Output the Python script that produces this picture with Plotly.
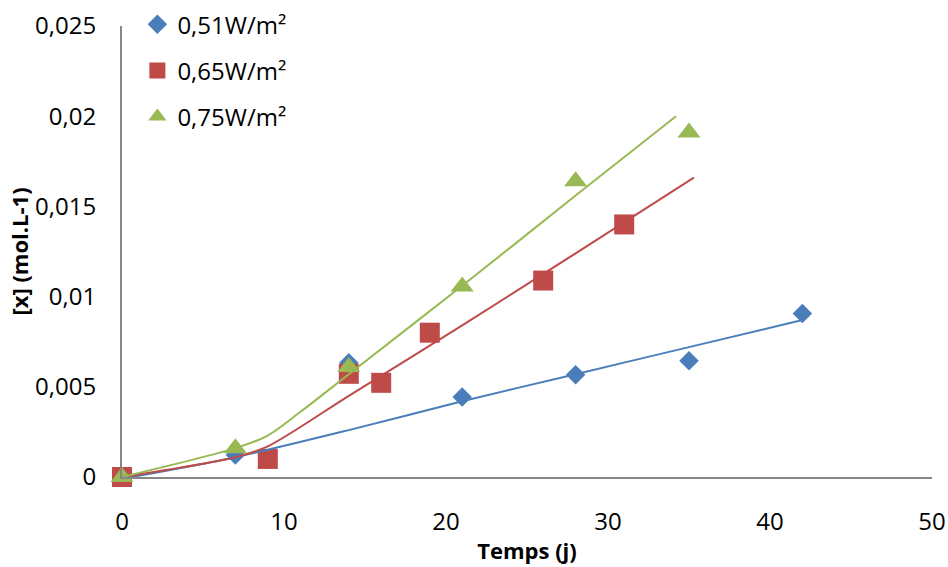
import plotly.graph_objects as go

# Experimental data
x_051 = [0, 7, 14, 21, 28, 35, 42]
y_051 = [0.0, 0.00122, 0.00633, 0.00444, 0.00567, 0.00644, 0.00906]

x_065 = [0, 9, 14, 16, 19, 26, 31]
y_065 = [0.0, 0.0010, 0.00572, 0.00522, 0.0080, 0.01089, 0.0140]

x_075 = [0, 7, 14, 21, 28, 35]
y_075 = [0.0, 0.0016, 0.0061, 0.01056, 0.0164, 0.0191]

# Model (fitted) curves
mx_051 = [0, 7, 14, 21, 28, 35, 42]
my_051 = [-0.0001, 0.0011, 0.0026, 0.0042, 0.0057, 0.0072, 0.0087]

mx_065 = [0, 7, 9, 14, 21, 28, 35.3]
my_065 = [0.0, 0.0011, 0.0017, 0.0045, 0.0084, 0.0124, 0.0166]

mx_075 = [0, 7, 9, 11, 14, 21, 28, 34.2]
my_075 = [0.0, 0.0016, 0.0023, 0.0036, 0.0057, 0.0106, 0.0156, 0.0200]

names = ["0,51W/m²", "0,65W/m²", "0,75W/m²"]
colors = ["#4A7EBB", "#BE4B48", "#98B954"]

y_ticks = [0, 0.005, 0.01, 0.015, 0.02, 0.025]
y_ticktext = ["0", "0,005", "0,01", "0,015", "0,02", "0,025"]
x_ticks = [0, 10, 20, 30, 40, 50]
x_ticktext = ["0", "10", "20", "30", "40", "50"]

FONT = "Open Sans"

fig = go.Figure()

markers = [("diamond", 15), ("square", 20), ("triangle-up", 20)]
data = [(x_051, y_051), (x_065, y_065), (x_075, y_075)]
models = [(mx_051, my_051), (mx_065, my_065), (mx_075, my_075)]

for i in range(3):
    fig.add_trace(go.Scatter(
        x=data[i][0], y=data[i][1], mode="markers", name=names[i],
        legendgroup=f"g{i}",
        marker=dict(symbol=markers[i][0], size=markers[i][1], color=colors[i],
                    line=dict(width=0)),
        cliponaxis=False,
    ))

for i in range(3):
    fig.add_trace(go.Scatter(
        x=models[i][0], y=models[i][1], mode="lines", showlegend=False,
        line=dict(color=colors[i], width=2, shape="spline", smoothing=0.8),
        cliponaxis=False, hoverinfo="skip",
    ))

fig.update_layout(
    width=948, height=567,
    margin=dict(l=122, r=16, t=26, b=90, autoexpand=False),
    paper_bgcolor="white", plot_bgcolor="white",
    font=dict(family=FONT, size=24, color="black"),
    showlegend=True,
    legend=dict(
        x=0.019, y=1.053, xanchor="left", yanchor="top",
        bgcolor="rgba(0,0,0,0)", font=dict(size=24, family=FONT),
        traceorder="grouped", tracegroupgap=12, itemsizing="trace",
    ),
    xaxis=dict(
        range=[0, 50], showgrid=False, zeroline=False, automargin=False,
        showline=True, linecolor="#868686", linewidth=2,
        tickmode="array", tickvals=x_ticks, ticktext=x_ticktext,
        ticks="", ticklabelstandoff=22,
        title=dict(text="<b>Temps (j)</b>", font=dict(size=22, family=FONT), standoff=8),
    ),
    yaxis=dict(
        range=[0, 0.025], showgrid=False, zeroline=False, automargin=False,
        showline=True, linecolor="#868686", linewidth=2,
        tickmode="array", tickvals=y_ticks, ticktext=y_ticktext,
        ticks="", ticklabelstandoff=19,
        title=dict(text="<b>[x] (mol.L-1)</b>", font=dict(size=22, family=FONT), standoff=0),
    ),
)

fig.write_html(
    "out.html",
    config={"displayModeBar": False},
    post_script="document.body.style.margin='0';document.body.style.overflow='hidden';",
)
